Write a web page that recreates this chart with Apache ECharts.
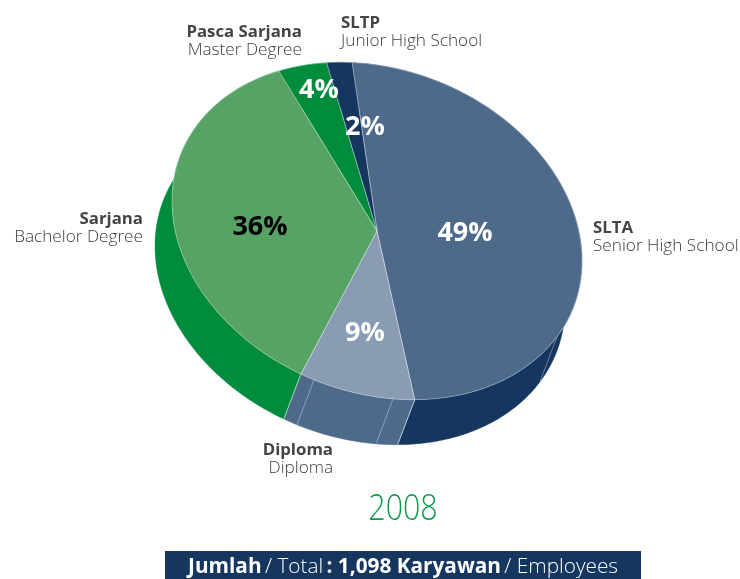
<!DOCTYPE html>
<html>
<head>
<meta charset="utf-8">
<style>html,body{margin:0;padding:0;background:#fff}#chart{width:740px;height:579px}</style>
<script src="https://cdn.jsdelivr.net/npm/echarts@6/dist/echarts.min.js"></script>
</head>
<body>
<div id="chart"></div>
<script>
// Workforce by education level, 2008
const namesId = ['SLTA', 'Diploma', 'Sarjana', 'Pasca Sarjana', 'SLTP'];
const namesEn = ['Senior High School', 'Diploma', 'Bachelor Degree', 'Master Degree', 'Junior High School'];
const shares = [49, 9, 36, 4, 2];
const yearLabel = '2008';

// Palette per slice
const topColors = ['#4d6a8b', '#8a9cb4', '#57a265', '#008c3c', '#14365f'];
const sideColors = ['#14365f', '#4d6a8b', '#008c3c', '#008c3c', '#14365f'];

// Tilted disc: sheared ellipse plus a downward extrusion
const disc = { cx: 377, cy: 231, a: 205, b: 166, shear: 0.146, dx: -17, dy: 45, startDeg: -7 };
const seam = 'rgba(255,255,255,0.5)';
const sideRibsDeg = [118.6, 175.5, 197.9];

// Anchors for outside captions and the percentages drawn on the slices
const captionAt = [
  { x: 593, y: 237, align: 'left' },
  { x: 333, y: 459, align: 'right' },
  { x: 143, y: 228, align: 'right' },
  { x: 302, y: 41, align: 'right' },
  { x: 341, y: 32, align: 'left' }
];
const percentAt = [[465, 233], [365, 333], [260, 227], [319, 90], [365, 127]];
const percentColors = ['#fff', '#fff', '#000', '#fff', '#fff'];

const total = shares.reduce((s, v) => s + v, 0);
const rad = d => d * Math.PI / 180;

function rimPoint(deg, offX, offY) {
  const t = rad(deg);
  const sx = disc.a * Math.sin(t);
  return [
    disc.cx + sx + (offX || 0),
    disc.cy - disc.b * Math.cos(t) + disc.shear * sx + (offY || 0)
  ];
}

function sliceSpan(i) {
  let from = disc.startDeg;
  for (let k = 0; k < i; k++) from += shares[k] / total * 360;
  return [from, from + shares[i] / total * 360];
}

function arcPoints(from, to, offX, offY) {
  const n = Math.max(2, Math.ceil((to - from) / 1.5));
  const pts = [];
  for (let k = 0; k <= n; k++) pts.push(rimPoint(from + (to - from) * k / n, offX, offY));
  return pts;
}

function renderSide(params) {
  const i = params.dataIndex;
  const [from, to] = sliceSpan(i);
  const upper = arcPoints(from, to);
  const lower = arcPoints(from, to, disc.dx, disc.dy).reverse();
  const children = [{
    type: 'polygon',
    shape: { points: upper.concat(lower) },
    style: { fill: sideColors[i], stroke: sideColors[i], lineWidth: 0.5 }
  }];
  // Edges between neighbouring side faces
  [from, to].concat(sideRibsDeg.filter(d => d > from && d < to)).forEach(deg => {
    const p = rimPoint(deg);
    const q = rimPoint(deg, disc.dx, disc.dy);
    children.push({
      type: 'line',
      z2: 2,
      shape: { x1: p[0], y1: p[1], x2: q[0], y2: q[1] },
      style: { stroke: seam, lineWidth: 0.7 }
    });
  });
  return { type: 'group', children };
}

function renderTop(params) {
  const i = params.dataIndex;
  const [from, to] = sliceSpan(i);
  const cap = captionAt[i];
  return {
    type: 'group',
    children: [
      {
        type: 'polygon',
        z2: 1,
        shape: { points: [[disc.cx, disc.cy]].concat(arcPoints(from, to)) },
        style: { fill: topColors[i], stroke: seam, lineWidth: 0.7 }
      },
      {
        type: 'text',
        z2: 5,
        x: percentAt[i][0],
        y: percentAt[i][1],
        style: {
          text: shares[i] + '%',
          fill: percentColors[i],
          font: 'bold 27px "Open Sans"',
          align: 'center',
          verticalAlign: 'middle'
        }
      },
      {
        type: 'text',
        z2: 5,
        x: cap.x,
        y: cap.y,
        style: {
          text: '{b|' + namesId[i] + '}\n{r|' + namesEn[i] + '}',
          align: cap.align,
          verticalAlign: 'middle',
          rich: {
            b: { font: 'bold 16.8px "Open Sans"', fill: '#444', lineHeight: 18, align: cap.align },
            r: { font: '300 17.2px "Open Sans"', fill: '#3c3c3c', lineHeight: 18, align: cap.align }
          }
        }
      }
    ]
  };
}

const chart = echarts.init(document.getElementById('chart'), null, { renderer: 'canvas' });
const sliceData = shares.map((v, i) => ({ name: namesId[i], value: [v] }));

chart.setOption({
  animation: false,
  series: [
    { type: 'custom', coordinateSystem: 'none', silent: true, z: 1, renderItem: renderSide, data: sliceData },
    { type: 'custom', coordinateSystem: 'none', silent: true, z: 2, renderItem: renderTop, data: sliceData }
  ],
  graphic: [
    {
      type: 'text',
      x: 403,
      y: 509,
      scaleX: 0.82,
      style: {
        text: yearLabel,
        fill: '#0f9a4c',
        font: '300 37px "Open Sans"',
        align: 'center',
        verticalAlign: 'middle'
      }
    },
    {
      type: 'rect',
      shape: { x: 165, y: 551, width: 476, height: 28 },
      style: { fill: '#14365f' }
    },
    {
      type: 'text',
      x: 403,
      y: 567,
      style: {
        text: '{b|Jumlah} {r|/ Total} {b|: 1,098 Karyawan} {r|/ Employees}',
        align: 'center',
        verticalAlign: 'middle',
        rich: {
          b: { font: 'bold 20.8px "Open Sans"', fill: '#fff' },
          r: { font: '300 20.8px "Open Sans"', fill: '#fff' }
        }
      }
    }
  ]
});
</script>
</body>
</html>
